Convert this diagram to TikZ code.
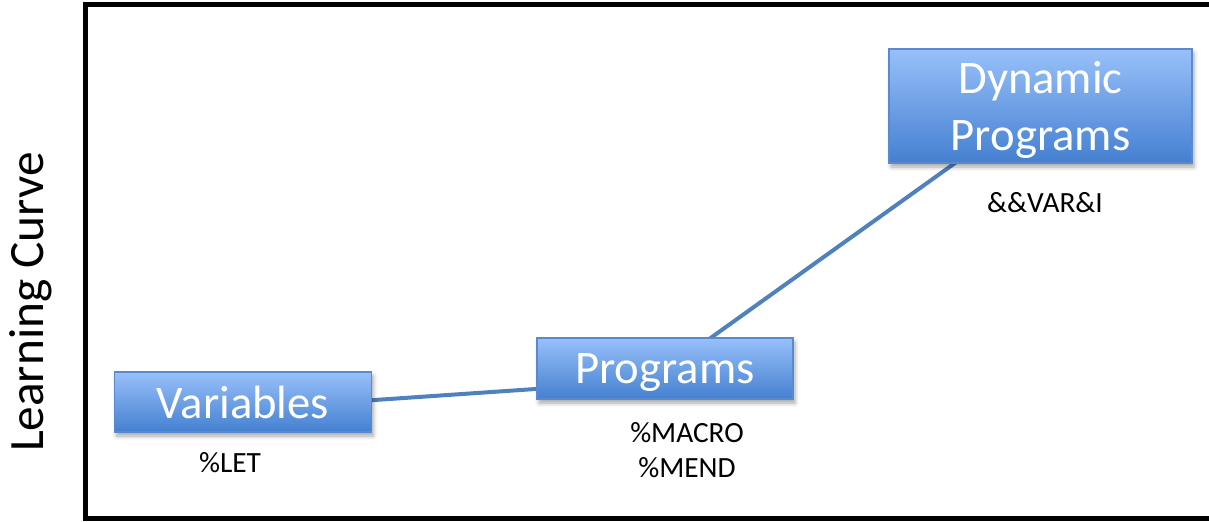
\documentclass[tikz,border=0pt]{standalone}
\usepackage{fontspec}
\setmainfont{Carlito}
\usetikzlibrary{shadows.blur,calc}
\definecolor{boxtop}{RGB}{152,192,250}
\definecolor{boxbottom}{RGB}{68,128,208}
\definecolor{boxedge}{RGB}{88,138,205}
\definecolor{linkblue}{RGB}{79,129,189}
\tikzset{
  stage/.style={draw=boxedge, line width=1pt, top color=boxtop, bottom color=boxbottom,
    text=white, font=\fontsize{35}{43}\selectfont, align=center, inner sep=0pt, text depth=0pt,
    blur shadow={shadow xshift=1.5pt, shadow yshift=-3pt, shadow opacity=35, shadow blur radius=3pt}},
  cmd/.style={font=\fontsize{22}{26}\selectfont, align=center, inner sep=0pt},
  link/.style={draw=linkblue, line width=3pt},
  frame/.style={draw=black, line width=3.75pt}
}
\begin{document}
\begin{tikzpicture}[x=0.75pt, y=-0.75pt]
  \useasboundingbox (0,0) rectangle (1209,521);
  \begin{scope}
    \clip (0,0) rectangle (1209,521);
    \draw[frame] (85.5,4.5) rectangle (1220,518.5);
  \end{scope}

  % axis label
  \node[rotate=90, font=\fontsize{37}{40}\selectfont] (axis) at (31,302) {Learning Curve};

  % connectors, drawn first so they sit behind the stages
  \coordinate (v1) at (360,401);
  \coordinate (p1) at (550,388);
  \coordinate (p2) at (705,342);
  \coordinate (d1) at (962,158);
  \draw[link] (v1) -- (p1);
  \draw[link] (p2) -- (d1);

  % stages
  \node[stage, minimum width=192.75pt, minimum height=45pt] (var) at (243,402) {Variables};
  \node[stage, minimum width=192pt, minimum height=45.75pt] (prog) at (665,368.5) {Programs};
  \node[stage, minimum width=227.25pt, minimum height=85.5pt] (dyn) at (1040.5,106) {Dynamic\\Programs};

  % statements belonging to each stage
  \node[cmd, anchor=base] (letcmd) at (230,472) {\%LET};
  \node[cmd, anchor=base] (maccmd) at (687,477) {\%MACRO\\\%MEND};
  \node[cmd, anchor=base] (varcmd) at (1045,212) {\&\&VAR\&I};
\end{tikzpicture}
\end{document}
